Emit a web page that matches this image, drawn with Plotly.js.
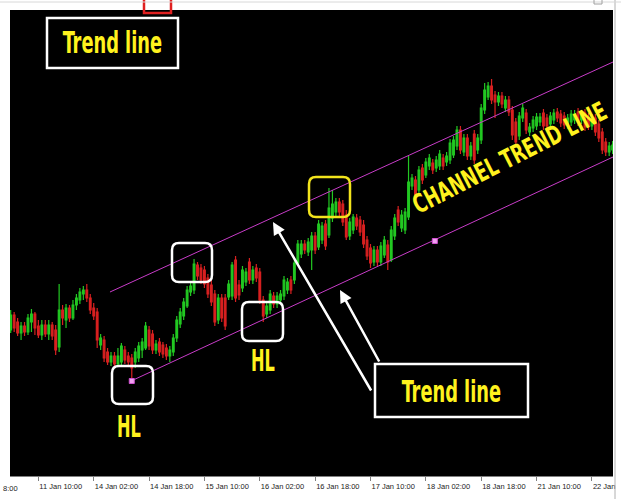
<!DOCTYPE html>
<html><head><meta charset="utf-8">
<script src="https://cdn.plot.ly/plotly-3.0.1.min.js"></script>
<style>html,body{margin:0;padding:0;background:#fff;overflow:hidden}#chart{width:621px;height:499px}</style>
</head><body><div id="chart"></div>
<script>
// ---- data (price in abstract points) ----
const candleOpen  = [146,161,154,143,150,144,154,162,150,141,151,142,151,146,129,166,156,168,158,171,176,182,186,178,168,164,131,136,124,114,120,112,114,126,120,118,114,118,126,128,146,142,126,134,131,128,120,124,138,152,160,170,184,186,211,208,206,198,191,182,156,178,178,179,180,216,191,188,194,214,196,208,204,176,162,166,180,172,176,180,186,196,196,213,222,232,224,226,240,229,236,252,241,258,264,274,272,261,240,246,258,256,251,236,228,214,226,214,221,231,216,240,266,248,246,259,290,296,286,308,301,310,313,308,310,318,314,316,321,330,346,324,338,320,342,326,336,366,379,390,381,374,380,368,376,366,354,340,358,363,344,348,350,354,363,358,352,356,364,362,360,351,354,356,364,356,363,359,350,358,352,344,334,324,326];
const candleHigh  = [166,164,158,154,154,162,167,164,156,156,156,156,154,151,192,171,172,171,176,182,188,190,192,182,173,168,142,140,128,124,124,128,133,130,124,122,128,134,138,154,150,146,136,138,134,132,130,142,160,168,178,190,194,217,214,212,210,202,196,186,182,182,182,196,214,220,196,210,208,218,210,212,208,180,174,186,184,184,186,200,198,200,217,236,236,236,238,244,244,256,254,256,288,286,278,278,276,266,258,262,262,260,256,240,232,230,230,234,240,236,250,262,270,266,268,320,302,300,310,312,318,322,317,320,326,322,324,337,340,350,350,342,342,334,346,342,372,393,394,397,385,384,384,380,380,370,358,364,372,367,353,360,363,363,367,362,364,367,368,366,364,362,366,366,368,366,367,363,362,362,356,348,338,334,335];
const candleLow   = [143,144,140,136,140,141,144,141,138,136,139,136,136,121,124,151,148,154,156,166,172,176,174,162,156,128,126,114,111,110,109,110,110,112,110,95,108,114,118,126,126,122,122,120,118,116,114,120,134,148,156,168,180,182,196,192,188,178,170,150,152,154,146,176,176,174,176,184,190,192,192,194,172,154,158,162,168,168,172,176,182,182,192,210,218,222,220,206,222,226,232,226,238,254,260,260,250,236,236,242,246,240,228,216,208,210,210,210,218,206,214,236,250,244,242,256,286,276,282,292,298,306,302,304,306,306,310,312,318,326,322,320,316,316,312,322,332,362,376,372,358,370,368,364,360,336,330,336,354,342,340,344,346,350,346,346,348,352,354,349,347,347,350,352,350,352,345,346,346,340,334,322,320,320,322];
const candleClose = [161,148,143,150,144,158,162,148,141,151,142,151,140,126,166,158,168,158,171,178,184,186,178,166,160,136,138,118,114,120,112,120,130,116,114,108,124,130,134,150,130,126,132,124,122,120,126,138,156,164,174,186,190,212,200,196,192,182,174,154,178,158,150,192,211,178,181,206,204,196,206,198,176,160,170,182,172,180,182,196,194,186,213,232,232,226,234,240,226,252,250,230,268,272,274,264,254,239,254,259,250,244,232,220,213,226,214,230,236,214,246,258,254,261,264,294,298,281,306,296,314,318,306,316,322,310,320,333,336,346,326,338,320,330,316,338,368,386,390,376,374,380,372,376,364,341,334,360,368,346,349,356,359,359,350,350,360,363,358,353,351,358,362,362,354,362,349,350,358,344,338,326,324,330,331];
const tickIndex = [8,24,40,56,72,88,104,120,136,152,168];
const tickText  = ["11 Jan 10:00","14 Jan 02:00","14 Jan 18:00","15 Jan 10:00","16 Jan 02:00","16 Jan 18:00","17 Jan 10:00","18 Jan 02:00","18 Jan 18:00","21 Jan 10:00","22 Jan"];
const upperChannelX = [28.7, 174.1], upperChannelY = [184, 414];
const lowerChannelX = [34.8, 174.1], lowerChannelY = [95, 319];
const pivotX = [35, 122.6], pivotY = [95, 235];

const barIndex = candleOpen.map((_, i) => i);

// ---- pixel helpers for decorations ----
const PX0 = 10, PW = 603, PY0 = 10, PH = 466;
const px = x => (x - PX0) / PW;
const py = y => (PY0 + PH - y) / PH;
function roundBox(x0, y0, x1, y1, r, color) {
  const rx = r / PW, ry = r / PH;
  const a = px(x0), b = px(x1), t = py(y0), u = py(y1);
  const d = `M${a+rx},${t} L${b-rx},${t} Q${b},${t} ${b},${t-ry} L${b},${u+ry} Q${b},${u} ${b-rx},${u} L${a+rx},${u} Q${a},${u} ${a},${u+ry} L${a},${t-ry} Q${a},${t} ${a+rx},${t} Z`;
  return {type: 'path', xref: 'paper', yref: 'paper', path: d, line: {color, width: 2.5}};
}
const YEL = '#fff21e';
const TF = 'DejaVu Sans Condensed, DejaVu Sans, sans-serif';
const TICKF = {family: 'Liberation Sans, Arial, sans-serif', size: 7.5, color: '#222'};
function label(x, y, text, size, extra) {
  return Object.assign({xref: 'paper', yref: 'paper', x: px(x), y: py(y), xanchor: 'center', yanchor: 'middle',
    text, showarrow: false, font: {family: TF, size, color: YEL, weight: 'bold'}}, extra || {});
}

const traces = [
  {type: 'candlestick', x: barIndex, open: candleOpen, high: candleHigh, low: candleLow, close: candleClose,
   increasing: {line: {color: '#22c822', width: 1.2}, fillcolor: '#22c822'},
   decreasing: {line: {color: '#d82020', width: 1.2}, fillcolor: '#d82020'},
   whiskerwidth: 0, hoverinfo: 'skip', showlegend: false},
  {type: 'scatter', mode: 'lines', x: upperChannelX, y: upperChannelY, line: {color: '#c83cc8', width: 1}, showlegend: false, hoverinfo: 'skip'},
  {type: 'scatter', mode: 'lines', x: lowerChannelX, y: lowerChannelY, line: {color: '#c83cc8', width: 1}, showlegend: false, hoverinfo: 'skip'},
  {type: 'scatter', mode: 'markers', x: pivotX, y: pivotY, marker: {symbol: 'square', size: 5, color: '#f0a0f0', line: {color: '#d050d0', width: 1}}, showlegend: false, hoverinfo: 'skip'}
];

// horizontal squeeze for each annotation text (index -> scale)
const squeeze = {0: 0.66, 1: 0.66, 2: 0.6, 3: 0.6, 4: 0.74};

const layout = {
  width: 621, height: 499,
  margin: {l: PX0, r: 621 - PX0 - PW, t: PY0, b: 499 - PY0 - PH, pad: 0},
  paper_bgcolor: '#ffffff', plot_bgcolor: '#000000',
  showlegend: false,
  xaxis: {range: [-0.2, 174.1], tickmode: 'array', tickvals: tickIndex, ticktext: tickText,
          ticks: 'outside', ticklen: 4, tickcolor: '#808080', showline: true, linecolor: '#808080', linewidth: 1,
          showgrid: false, zeroline: false, ticklabelposition: 'outside right', ticklabelstandoff: 3,
          ticklabeloverflow: 'allow', tickfont: TICKF, rangeslider: {visible: false}, fixedrange: true},
  yaxis: {range: [0, 466], showticklabels: false, ticks: '', showgrid: false, zeroline: false, showline: false, fixedrange: true},
  shapes: [
    {type: 'rect', xref: 'paper', yref: 'paper', x0: px(47), x1: px(178), y0: py(68), y1: py(18), line: {color: '#fff', width: 2.5}, fillcolor: '#000'},
    {type: 'rect', xref: 'paper', yref: 'paper', x0: px(375), x1: px(528), y0: py(417), y1: py(364), line: {color: '#fff', width: 2.5}, fillcolor: '#000'},
    roundBox(112, 366, 153, 404, 7, '#ffffff'),
    roundBox(172, 243, 212, 282, 7, '#ffffff'),
    roundBox(242, 302, 283, 341, 7, '#ffffff'),
    roundBox(309, 177, 350, 217, 7, '#f2e41c'),
    {type: 'rect', xref: 'paper', yref: 'paper', x0: px(144), x1: px(171), y0: py(13), y1: py(-4), line: {color: '#e02020', width: 2.5}, fillcolor: 'rgba(0,0,0,0)'},
    {type: 'line', xref: 'paper', yref: 'paper', x0: px(615), x1: px(615), y0: py(0), y1: py(499), line: {color: '#b0b0b0', width: 1}},
    {type: 'line', xref: 'paper', yref: 'paper', x0: px(0), x1: px(621), y0: py(2), y1: py(2), line: {color: '#d8d8d8', width: 1}},
    {type: 'rect', xref: 'paper', yref: 'paper', x0: px(594), x1: px(602), y0: py(4), y1: py(-2), line: {color: '#a0a0a0', width: 1}}
  ],
  annotations: [
    label(112.5, 43, 'Trend line', 30),
    label(451.5, 391, 'Trend line', 30),
    label(129, 426, 'HL', 30),
    label(263, 360, 'HL', 30),
    label(509, 158, 'CHANNEL TREND LINE', 26, {textangle: -27}),
    {xref: 'paper', yref: 'paper', x: px(273), y: py(222), text: '', showarrow: true, ax: 99, ay: 170, arrowcolor: '#ffffff', arrowwidth: 2.5, arrowhead: 2, arrowsize: 1},
    {xref: 'paper', yref: 'paper', x: px(340), y: py(290), text: '', showarrow: true, ax: 40, ay: 73, arrowcolor: '#ffffff', arrowwidth: 2.5, arrowhead: 2, arrowsize: 1},
    {xref: 'paper', yref: 'paper', x: px(1), y: py(488), xanchor: 'left', yanchor: 'middle', text: '8:00', showarrow: false, font: TICKF}
  ]
};
Plotly.newPlot('chart', traces, layout, {staticPlot: true, displayModeBar: false}).then(() => {
  document.querySelectorAll('#chart g.annotation').forEach(g => {
    const s = squeeze[+g.getAttribute('data-index')];
    const t = g.querySelector('text.annotation-text');
    if (s && t) {
      t.style.transformBox = 'fill-box';
      t.style.transformOrigin = 'center';
      t.style.transform = `scaleX(${s})`;
    }
  });
});
</script></body></html>
